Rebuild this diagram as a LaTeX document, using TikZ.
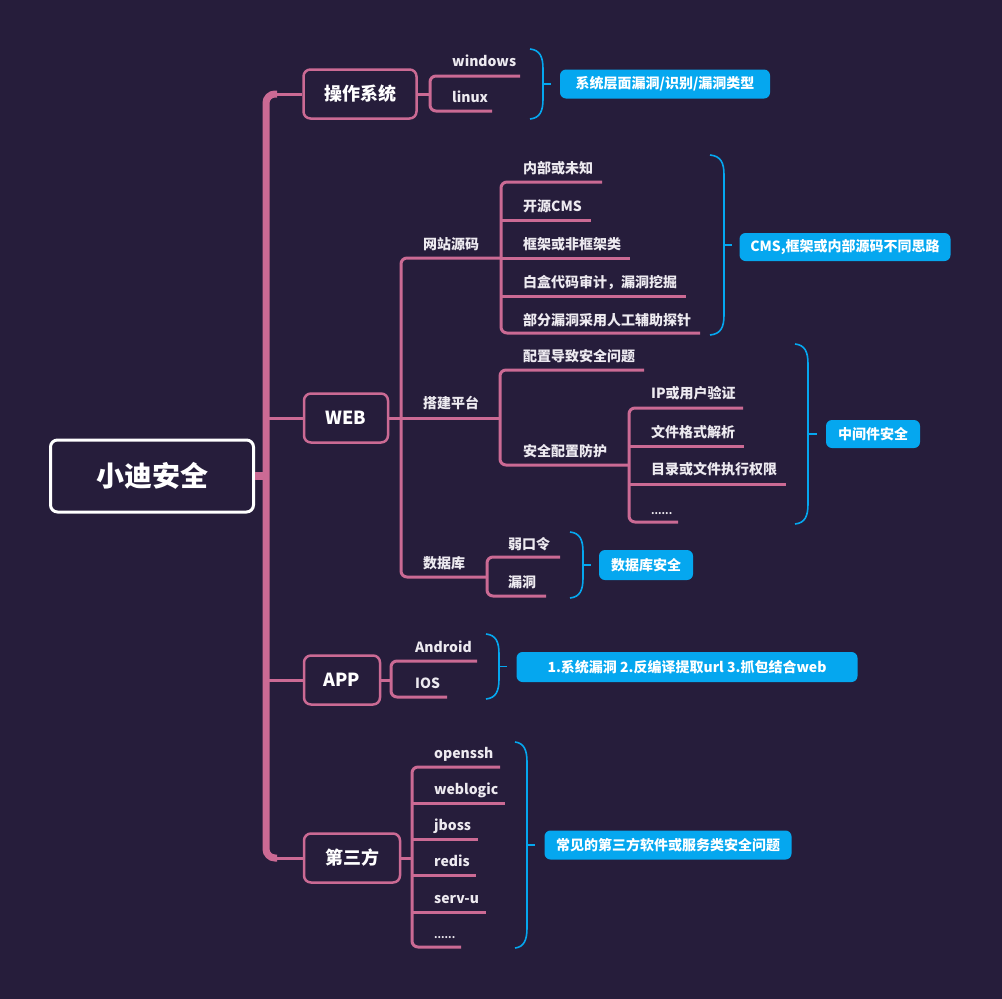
\documentclass[tikz,border=0pt]{standalone}
\usepackage{fontspec}
\setmainfont{Noto Sans CJK SC}
\definecolor{bg}{HTML}{261D3B}
\definecolor{pk}{HTML}{CB6A94}
\definecolor{bl}{HTML}{05A7EF}
\definecolor{tx}{HTML}{EDEAF0}
\tikzset{
  br/.style={pk, line width=3},
  leaf/.style={anchor=base west, inner sep=0, text=tx, font=\fontsize{14}{16}\selectfont\bfseries},
  lvl/.style={draw=pk, line width=2.5, rounded corners=7, fill=bg, text=white, font=\fontsize{18}{20}\selectfont\bfseries, inner sep=0, minimum height=49},
  rootbox/.style={draw=white, line width=3, rounded corners=7, fill=bg, text=white, font=\fontsize{28}{30}\selectfont\bfseries, inner sep=0, minimum width=203, minimum height=72},
  note/.style={fill=bl, rounded corners=6, text=white, font=\fontsize{14}{16}\selectfont\bfseries, inner sep=0},
  brk/.style={bl, line width=1.6},
}
\newcommand\bracketR[5]{% name, x0, ytop, ybot, xb
  \draw[brk] (#2,#3) .. controls (#5-3,#3+1) and (#5,#3+8) .. (#5,#3+20) -- (#5,#4-20) .. controls (#5,#4-8) and (#5-3,#4-1) .. (#2,#4);
  \coordinate (#1) at (#5,{(#3+#4)/2});
}
\begin{document}
\begin{tikzpicture}[x=1pt,y=-1pt]
\fill[bg] (0,0) rectangle (1002,999);
\useasboundingbox (0,0) rectangle (1002,999);

% root and level-1 boxes
\node[rootbox] (root) at (152,476) {小迪安全};
\node[lvl, minimum width=113] (os) at (360,94) {操作系统};
\node[lvl, minimum width=84] (web) at (346,418) {WEB};
\node[lvl, minimum width=76] (app) at (342,680) {APP};
\node[lvl, minimum width=96] (tp) at (352,858) {第三方};

% trunk
\coordinate (T1) at (266,94);
\coordinate (T2) at (266,858);
\coordinate (TR) at (266,476);
\draw[pk, line width=7, rounded corners=9] (277,94) -- (T1) -- (T2) -- (277,858);
\draw[pk, line width=8] (root.east) -- (TR);
\draw[br] (275,94) -- (os.west);
\draw[br] (275,858) -- (tp.west);
\draw[br] (266,418) -- (web.west);
\draw[br] (266,680) -- (app.west);

% ===== 操作系统 =====
\coordinate (osj) at (430,94);
\draw[br] (os.east) -- (osj);
\draw[br, rounded corners=6] (520,76) -- (430,76) -- (430,111) -- (492,111);
\node[leaf] (win) at (452,66) {windows};
\node[leaf] (lin) at (452,102) {linux};
\bracketR{osb}{530}{49}{119}{543}
\node[note, minimum width=210, minimum height=29] (osn) at (665,84) {系统层面漏洞/识别/漏洞类型};
\draw[brk] (osb) -- ++(8,0);

% ===== WEB =====
\coordinate (wj) at (401,418);
\draw[br] (web.east) -- (wj);
\draw[br, rounded corners=6] (501,258) -- (401,258) -- (401,577) -- (487,577);
\draw[br] (wj) -- (500,418);
\node[leaf] (src) at (423,249) {网站源码};
\node[leaf] (plat) at (423,408) {搭建平台};
\node[leaf] (db) at (423,568) {数据库};

% 网站源码 children
\draw[br, rounded corners=6] (602,182) -- (501,182) -- (501,333) -- (700,333);
\draw[br] (501,220) -- (591,220);
\draw[br] (501,258) -- (630,258);
\draw[br] (501,296) -- (686,296);
\node[leaf] (s1) at (523,173) {内部或未知};
\node[leaf] (s2) at (523,211) {开源CMS};
\node[leaf] (s3) at (523,249) {框架或非框架类};
\node[leaf] (s4) at (523,287) {白盒代码审计，漏洞挖掘};
\node[leaf] (s5) at (523,325) {部分漏洞采用人工辅助探针};
\bracketR{srcb}{710}{155}{335}{724}
\node[note, minimum width=211, minimum height=28] (srcn) at (845,247) {CMS,框架或内部源码不同思路};
\draw[brk] (srcb) -- ++(8,0);

% 搭建平台 children
\draw[br, rounded corners=6] (644,370) -- (500,370) -- (500,465) -- (629,465);
\node[leaf] (p1) at (523,361) {配置导致安全问题};
\node[leaf] (p2) at (523,456) {安全配置防护};
\draw[br, rounded corners=6] (743,408) -- (629,408) -- (629,522) -- (678,522);
\draw[br] (629,446) -- (744,446);
\draw[br] (629,484) -- (786,484);
\node[leaf] (q1) at (651,398) {IP或用户验证};
\node[leaf] (q2) at (651,437) {文件格式解析};
\node[leaf] (q3) at (651,474) {目录或文件执行权限};
\node[leaf, font=\fontsize{10}{12}\selectfont\bfseries] (q4) at (651,514) {......};
\bracketR{platb}{795}{344}{524}{808}
\node[note, minimum width=94, minimum height=28] (platn) at (873,434) {中间件安全};
\draw[brk] (platb) -- ++(9,0);

% 数据库 children
\draw[br, rounded corners=6] (560,557) -- (487,557) -- (487,596) -- (546,596);
\node[leaf] (d1) at (508,549) {弱口令};
\node[leaf] (d2) at (508,587) {漏洞};
\bracketR{dbb}{570}{532}{598}{583}
\node[note, minimum width=94, minimum height=30] (dbn) at (646,565) {数据库安全};
\draw[brk] (dbb) -- ++(8,0);

% ===== APP =====
\coordinate (aj) at (391,680);
\draw[br] (app.east) -- (aj);
\draw[br, rounded corners=6] (477,661) -- (391,661) -- (391,697) -- (447,697);
\node[leaf] (and) at (415,652) {Android};
\node[leaf] (ios) at (415,688) {IOS};
\bracketR{appb}{486}{634}{699}{499}
\node[note, minimum width=341, minimum height=30] (appn) at (687,667) {1.系统漏洞 2.反编译提取url 3.抓包结合web};
\draw[brk] (appb) -- ++(8,0);

% ===== 第三方 =====
\coordinate (tj) at (412,858);
\draw[br] (tp.east) -- (tj);
\draw[br, rounded corners=6] (500,767) -- (412,767) -- (412,947) -- (461,947);
\draw[br] (412,803) -- (505,803);
\draw[br] (412,839) -- (478,839);
\draw[br] (412,875) -- (476,875);
\draw[br] (412,912) -- (486,912);
\node[leaf] (t1) at (434,758) {openssh};
\node[leaf] (t2) at (434,794) {weblogic};
\node[leaf] (t3) at (434,830) {jboss};
\node[leaf] (t4) at (434,866) {redis};
\node[leaf] (t5) at (434,903) {serv-u};
\node[leaf, font=\fontsize{10}{12}\selectfont\bfseries] (t6) at (434,938) {......};
\bracketR{tpb}{515}{742}{948}{527}
\node[note, minimum width=247, minimum height=29] (tpn) at (668,845) {常见的第三方软件或服务类安全问题};
\draw[brk] (tpb) -- ++(8,0);
\end{tikzpicture}
\end{document}
